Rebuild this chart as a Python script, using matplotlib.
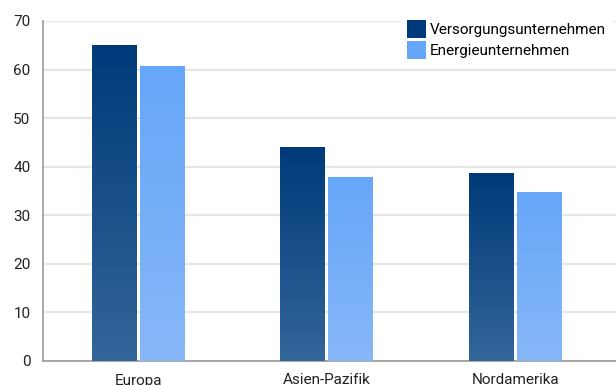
import numpy as np
import matplotlib.pyplot as plt
from matplotlib.colors import LinearSegmentedColormap
from matplotlib.patches import Patch

plt.rcParams['font.family'] = ['Roboto', 'DejaVu Sans']

regions = ["Europa", "Asien-Pazifik", "Nordamerika"]
versorger = [65, 44, 38.7]
energie = [60.8, 37.9, 34.8]
series_names = ["Versorgungsunternehmen", "Energieunternehmen"]

dark_cmap = LinearSegmentedColormap.from_list("dark", ["#336699", "#003a7a"])
light_cmap = LinearSegmentedColormap.from_list("light", ["#87b7f9", "#66a6f8"])

fig = plt.figure(figsize=(6.16, 3.85), dpi=100)
ax = fig.add_axes([43 / 616, 24 / 385, 1 - 43 / 616, 340 / 385])

x = np.arange(len(regions))
w = 0.238
off = 0.127
bars_dark = ax.bar(x - off, versorger, w, color="none", zorder=3)
bars_light = ax.bar(x + off, energie, w, color="none", zorder=3)

# vertical gradient inside each bar
grad = np.linspace(0, 1, 256).reshape(-1, 1)
for bars, cmap in [(bars_dark, dark_cmap), (bars_light, light_cmap)]:
    for b in bars:
        x0, y0 = b.get_x(), b.get_y()
        x1, y1 = x0 + b.get_width(), y0 + b.get_height()
        im = ax.imshow(grad, cmap=cmap, origin="lower", aspect="auto",
                       extent=[x0, x1, y0, y1], zorder=3)
        im.set_clip_path(b)

ax.set_xlim(-0.503, 2.53)
ax.set_ylim(0, 70)
ax.set_yticks(range(0, 71, 10))
ax.set_xticks(x)
ax.set_xticklabels(regions)
ax.tick_params(axis="both", length=0, labelsize=11, colors="#222222")
ax.tick_params(axis="y", pad=9)
ax.tick_params(axis="x", pad=9)
ax.grid(axis="y", color="#e6e6e6", linewidth=1.6, zorder=0)
ax.set_axisbelow(True)
for s in ["top", "right"]:
    ax.spines[s].set_visible(False)
for s in ["left", "bottom"]:
    ax.spines[s].set_color("#999999")
    ax.spines[s].set_linewidth(1.2)

handles = [Patch(facecolor="#003a7a"), Patch(facecolor="#66a6f8")]
leg = fig.legend(handles, series_names, loc="upper left",
                 bbox_to_anchor=(401 / 616, 1 - 14 / 385), frameon=True,
                 fancybox=False, edgecolor="white", facecolor="white",
                 framealpha=1, fontsize=11, handlelength=1.24,
                 handleheight=1.44, handletextpad=0.25, labelspacing=0.2,
                 borderpad=0.4, borderaxespad=0)
leg.set_zorder(5)

fig.savefig("out.png", dpi=100)
